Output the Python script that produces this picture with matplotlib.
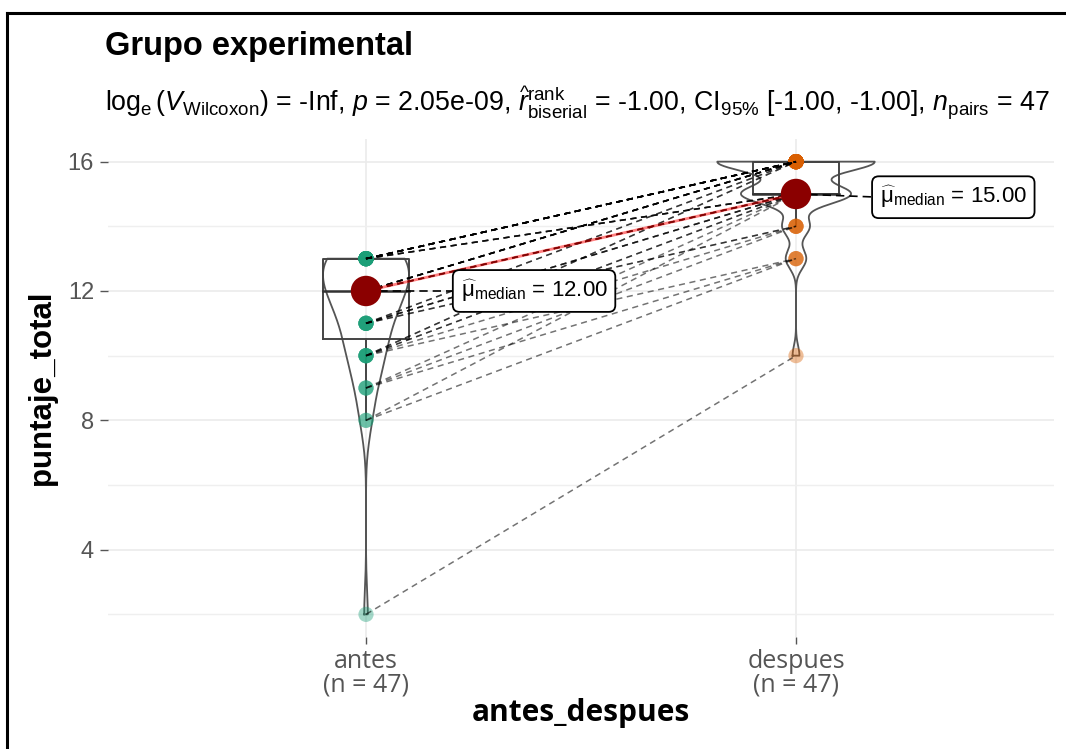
import numpy as np
import matplotlib.pyplot as plt
from matplotlib.lines import Line2D

plt.rcParams['font.family'] = ['Liberation Sans', 'DejaVu Sans']
plt.rcParams['mathtext.fontset'] = 'custom'
plt.rcParams['mathtext.rm'] = 'Liberation Sans'
plt.rcParams['mathtext.it'] = 'Liberation Sans:italic'
plt.rcParams['mathtext.bf'] = 'Liberation Sans:bold'

# datos pareados (antes -> despues)
antes = [2, 8, 8, 9, 9, 9, 10, 10, 10, 10, 10, 10,
         11, 11, 11, 11, 11, 11, 11,
         12, 12, 12, 12, 12, 12, 12, 12, 12, 12, 12, 12,
         13, 13, 13, 13, 13, 13, 13, 13, 13, 13, 13, 13, 13, 13, 13, 13]
despues = [10, 13, 15, 13, 14, 15, 13, 14, 15, 15, 16, 16,
           14, 14, 15, 15, 15, 16, 16,
           15, 15, 15, 15, 15, 16, 16, 16, 16, 16, 16, 16,
           15, 15, 15, 15, 16, 16, 16, 16, 16, 16, 16, 16, 16, 16, 16, 16]
grupos = ['antes', 'despues']
colores = ['#1B9E77', '#D95F02']
medianas = [12.00, 15.00]

titulo = 'Grupo experimental'
subtitulo = (r'$\log_{\mathrm{e}}(V_{\mathrm{Wilcoxon}})$ = -Inf, $p$ = 2.05e-09, '
             r'$\widehat{r}_{\mathrm{biserial}}^{\mathrm{rank}}$ = -1.00, '
             r'CI$_{95\%}$ [-1.00, -1.00], $n_{\mathrm{pairs}}$ = 47')


def kde(vals, grid):
    vals = np.asarray(vals, float)
    n = len(vals)
    iqr = np.subtract(*np.percentile(vals, [75, 25]))
    bw = 0.9 * min(vals.std(ddof=1), iqr / 1.34) * n ** -0.2
    d = np.exp(-0.5 * ((grid[:, None] - vals[None, :]) / bw) ** 2).sum(1)
    return d / (n * bw * np.sqrt(2 * np.pi))


fig = plt.figure(figsize=(10.66, 7.49), dpi=100)
ax = fig.add_axes([108 / 1066, 1 - 637 / 749, (1054 - 108) / 1066, (637 - 139) / 749])

datos = [antes, despues]
anchos = [0.10, 0.183]
for i, vals in enumerate(datos):
    x0 = i + 1
    # violin
    grid = np.linspace(min(vals), max(vals), 300)
    d = kde(vals, grid)
    d = d / d.max() * anchos[i]
    ax.fill_betweenx(grid, x0 - d, x0 + d, facecolor='white', alpha=0.2, zorder=2)
    ax.plot(np.r_[x0 - d, (x0 + d)[::-1], x0 - d[0]], np.r_[grid, grid[::-1], grid[0]],
            color='#555555', lw=1.3, zorder=3)
    # boxplot
    q1, med, q3 = np.percentile(vals, [25, 50, 75])
    iqr = q3 - q1
    lo = min(v for v in vals if v >= q1 - 1.5 * iqr)
    hi = max(v for v in vals if v <= q3 + 1.5 * iqr)
    w = 0.1
    ax.plot([x0 - w, x0 + w, x0 + w, x0 - w, x0 - w], [q1, q1, q3, q3, q1],
            color='#444444', lw=1.4, zorder=4)
    ax.plot([x0 - w, x0 + w], [med, med], color='#333333', lw=1.8, zorder=4)
    ax.plot([x0, x0], [lo, q1], color='#444444', lw=1.4, zorder=4)
    ax.plot([x0, x0], [q3, hi], color='#444444', lw=1.4, zorder=4)
    # puntos
    ax.scatter([x0] * len(vals), vals, s=120, color=colores[i], alpha=0.4,
               edgecolors='none', zorder=5)

# lineas pareadas
for a, b in zip(antes, despues):
    ax.plot([1, 2], [a, b], color='black', alpha=0.55, lw=1.1, ls=(0, (4, 3)), zorder=6)

# medianas
ax.plot([1, 2], medianas, color='red', alpha=0.5, lw=2, zorder=7)
ax.scatter([1, 2], medianas, s=480, color='#8B0000', zorder=8, edgecolors='none')

etiq_x = [1.22, 2.195]
etiq_y = [12.0, 14.9]
for i, m in enumerate(medianas):
    ax.plot([i + 1, etiq_x[i]], [m, etiq_y[i]], color='black', lw=1.2, ls=(0, (5, 3)), zorder=7)
    ax.text(etiq_x[i], etiq_y[i], r'$\widehat{\mathrm{\mu}}_{\mathrm{median}}$ = %.2f' % m,
            fontsize=16, ha='left', va='center', zorder=9,
            bbox=dict(boxstyle='round,pad=0.35,rounding_size=0.3', fc='white', ec='black', lw=1.3))

ax.set_xlim(0.4, 2.6)
ax.set_ylim(1.3, 16.7)
ax.set_yticks([4, 8, 12, 16])
ax.set_yticks([2, 6, 10, 14], minor=True)
ax.set_xticks([1, 2])
ax.set_xticklabels(['%s\n(n = %d)' % (g, len(v)) for g, v in zip(grupos, datos)],
                   fontsize=18, family='Open Sans', color='#555555', linespacing=0.9)
ax.tick_params(axis='y', which='major', labelsize=17, colors='#555555', length=6, width=1, pad=4)
ax.tick_params(axis='y', which='minor', length=0)
ax.tick_params(axis='x', length=5, width=1, colors='#555555', pad=4)
ax.grid(True, which='major', color='#EBEBEB', lw=1.2)
ax.grid(True, which='minor', axis='y', color='#EFEFEF', lw=1.0)
ax.set_axisbelow(True)
for s in ax.spines.values():
    s.set_visible(False)

ax.set_ylabel('puntaje_total', fontsize=22.5, fontweight='bold', labelpad=8)
ax.set_xlabel('antes_despues', fontsize=21.5, fontweight='bold', family='Open Sans', labelpad=0)

fig.text(105 / 1066, 1 - 31 / 749, titulo, fontsize=23.5, fontweight='bold', va='top', ha='left')
fig.text(105 / 1066, 1 - 112 / 749, subtitulo, fontsize=19.3, va='baseline', ha='left')

# marco de la captura
fig.add_artist(Line2D([7 / 1066, 7 / 1066], [0, 1 - 13 / 749], color='black', lw=2.2,
                      transform=fig.transFigure))
fig.add_artist(Line2D([7 / 1066, 1], [1 - 13 / 749, 1 - 13 / 749], color='black', lw=2.2,
                      transform=fig.transFigure))

fig.savefig('out.png', dpi=100, facecolor='white')
